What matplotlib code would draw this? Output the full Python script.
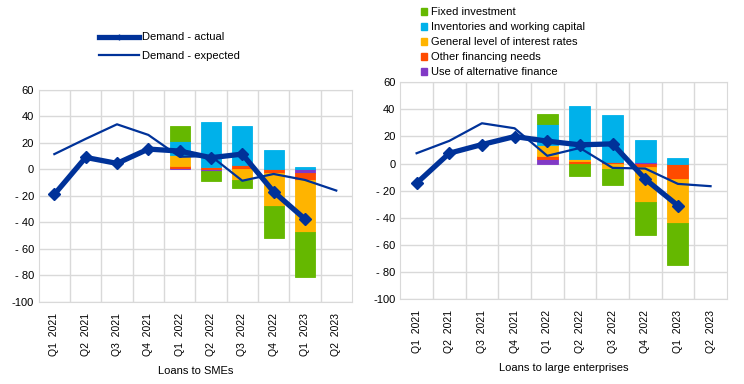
import matplotlib
matplotlib.use("Agg")
import matplotlib.pyplot as plt
import numpy as np
from matplotlib.lines import Line2D
from matplotlib.patches import Patch

plt.rcParams['font.family'] = ['Liberation Sans', 'DejaVu Sans']
plt.rcParams['font.size'] = 8
plt.rcParams['axes.unicode_minus'] = False

quarters = ["Q1  2021", "Q2  2021", "Q3  2021", "Q4  2021", "Q1  2022",
            "Q2  2022", "Q3  2022", "Q4  2022", "Q1  2023", "Q2  2023"]
ytick_vals = [-100, -80, -60, -40, -20, 0, 20, 40, 60]
ytick_labels = ["-100", "- 80", "- 60", "- 40", "- 20", "0", "20", "40", "60"]

# SMEs
sme_actual = [-18.9, 9.0, 4.5, 15.3, 13.8, 8.8, 11.5, -16.9, -37.5, np.nan]
sme_expected = [11.5, 23.0, 34.0, 26.0, 9.5, 10.0, -8.6, -3.5, -8.0, -16.0]
# factor contributions, Q1 2022 .. Q1 2023
sme_fixed = [11.1, -8.0, -5.8, -24.3, -34.0]
sme_invent = [10.8, 34.0, 29.7, 14.6, 2.0]
sme_rates = [8.3, 0.0, -8.0, -24.7, -39.5]
sme_other = [1.7, 2.0, 3.3, -3.0, -5.0]
sme_altfin = [0.8, -1.0, 0.0, 0.0, -3.0]

# large enterprises
lar_actual = [-14.5, 7.6, 14.0, 19.9, 16.5, 13.8, 14.5, -11.5, -31.0, np.nan]
lar_expected = [7.6, 16.7, 29.7, 26.0, 5.7, 11.5, -3.2, -3.7, -15.0, -16.7]
lar_fixed = [7.4, -9.0, -11.8, -24.3, -31.0]
lar_invent = [15.4, 39.3, 34.3, 16.0, 4.0]
lar_rates = [8.1, 1.2, -4.2, -26.0, -32.4]
lar_other = [2.5, 2.0, 0.8, -2.5, -10.8]
lar_altfin = [3.2, 0.0, 0.5, 1.0, -0.5]

bar_idx = [4, 5, 6, 7, 8]

names = ["Fixed investment", "Inventories and working capital",
         "General level of interest rates", "Other financing needs",
         "Use of alternative finance"]
colors = ["#65B800", "#00B1EA", "#FFB400", "#FF4B00", "#8139C6"]
navy = "#003299"

fig = plt.figure(figsize=(7.44, 3.84), dpi=100)
ax1 = fig.add_axes([0.052, 0.214, 0.421, 0.552])
ax2 = fig.add_axes([0.538, 0.221, 0.439, 0.565])


def draw(ax, actual, expected, comps, title):
    x = np.arange(len(quarters))
    # stacked from zero: alternative finance first, fixed investment last
    pos = np.zeros(len(bar_idx))
    neg = np.zeros(len(bar_idx))
    for vals, col in reversed(list(zip(comps, colors))):
        vals = np.array(vals)
        bottom = np.where(vals >= 0, pos, neg)
        ax.bar(bar_idx, vals, bottom=bottom, width=0.64, color=col,
               edgecolor=col, linewidth=0.6, zorder=2)
        pos = pos + np.clip(vals, 0, None)
        neg = neg + np.clip(vals, None, 0)
    ax.plot(x, expected, color=navy, lw=1.6, zorder=3)
    ax.plot(x, actual, color=navy, lw=3.8, marker='D', ms=6, zorder=4)
    ax.set_xlim(-0.5, 9.5)
    ax.set_ylim(-100, 60)
    ax.set_yticks(ytick_vals)
    ax.set_yticklabels(ytick_labels)
    ax.set_xticks(x)
    ax.set_xticklabels(quarters, rotation=90, fontsize=7.5)
    ax.set_xticks(np.arange(0.5, 9.5, 1), minor=True)
    ax.grid(True, which='major', axis='y', color='#d9d9d9', lw=1, zorder=0)
    ax.grid(True, which='minor', axis='x', color='#d9d9d9', lw=1, zorder=0)
    ax.tick_params(which='both', length=0)
    ax.tick_params(axis='y', labelsize=8)
    ax.tick_params(axis='x', pad=8)
    for s in ax.spines.values():
        s.set_color('#d9d9d9')
    ax.set_xlabel(title, fontsize=8, labelpad=7)


draw(ax1, sme_actual, sme_expected,
     [sme_fixed, sme_invent, sme_rates, sme_other, sme_altfin], "Loans to SMEs")
draw(ax2, lar_actual, lar_expected,
     [lar_fixed, lar_invent, lar_rates, lar_other, lar_altfin],
     "Loans to large enterprises")

line_handles = [Line2D([0], [0], color=navy, lw=3.8, marker='|', ms=4,
                       label="Demand - actual"),
                Line2D([0], [0], color=navy, lw=1.6, label="Demand - expected")]
fig.legend(handles=line_handles, loc='upper left', bbox_to_anchor=(0.125, 0.93),
           frameon=False, fontsize=8, handlelength=3.6, handletextpad=0.3,
           labelspacing=0.8, borderpad=0)

bar_handles = [Patch(facecolor=c, edgecolor=c, label=n)
               for n, c in zip(names, colors)]
fig.legend(handles=bar_handles, loc='upper left', bbox_to_anchor=(0.558, 0.995),
           frameon=False, fontsize=8, handlelength=0.6, handleheight=0.6,
           handletextpad=0.3, labelspacing=0.45, borderpad=0)

fig.savefig("out.png", dpi=100)
